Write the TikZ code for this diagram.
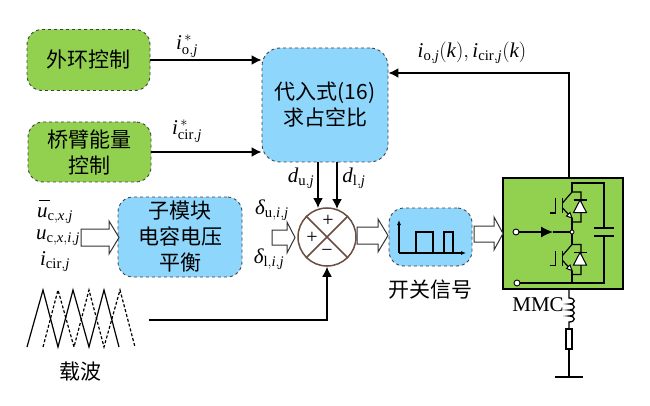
\documentclass[tikz,border=0pt]{standalone}
\usepackage{amsmath}
\usepackage{fontspec}
\setmainfont{Liberation Serif}
\newfontfamily\cjk{Noto Sans CJK SC}
\usetikzlibrary{arrows.meta}
\newcommand{\ii}[1]{\textit{#1}}
\tikzset{
  x=1pt,y=-1pt,
  ctl/.style={draw=black!75,dashed,line width=0.9pt,rounded corners=15pt,fill=#1,align=center,inner sep=0pt,font=\cjk\fontsize{21}{26}\selectfont},
  wire/.style={line width=1.6pt,line cap=butt},
  arr/.style={wire,-{Latex[length=10pt,width=10pt]}},
  hollow/.style={draw=black!80,fill=white,line width=1pt},
  lbl/.style={inner sep=0pt,font=\fontsize{21}{23}\selectfont},
  cn/.style={inner sep=0pt,font=\cjk\fontsize{21}{24}\selectfont},
  ckt/.style={line width=1.2pt},
  term/.style={circle,draw=black,fill=white,line width=0.9pt,inner sep=0pt,minimum size=6pt},
}
\definecolor{gfill}{HTML}{92D050}
\definecolor{bfill}{HTML}{8ED6FB}
\definecolor{sumc}{HTML}{6B4D42}
\begin{document}
\begin{tikzpicture}
\useasboundingbox (0,0) rectangle (650,406);
% control boxes
\node[ctl=gfill,minimum width=123pt,minimum height=61pt] (g1) at (88.5,60) {外环控制};
\node[ctl=gfill,minimum width=123pt,minimum height=60pt] (g2) at (89.5,152) {桥臂能量\\控制};
\node[ctl=bfill,rounded corners=18pt,minimum width=126pt,minimum height=114pt] (big) at (325,105) {代入式(16)\\求占空比};
\node[ctl=bfill,minimum width=124pt,minimum height=80pt] (sm) at (180,237) {子模块\\电容电压\\平衡};
\node[ctl=bfill,minimum width=83pt,minimum height=58pt] (sw) at (430.5,237) {};
% summing junction
\node[circle,draw=sumc,line width=1.5pt,minimum size=58pt,inner sep=0pt] (sum) at (327,237) {};
\draw[sumc,line width=1.5pt] (sum.45) -- (sum.225) (sum.135) -- (sum.315);
\node[inner sep=0pt,font=\fontsize{20}{20}\selectfont] (pt) at (328,221) {+};
\node[inner sep=0pt,font=\fontsize{20}{20}\selectfont] (pl) at (312,238) {+};
\node[inner sep=0pt,font=\fontsize{20}{20}\selectfont] (mn) at (327,253) {−};
% MMC box
\node[draw=black,line width=2pt,fill=gfill,minimum width=120pt,minimum height=111pt,inner sep=0pt] (mmc) at (563,233.5) {};
% connectors
\draw[arr] (g1.east) -- (g1 -| big.west);
\draw[arr] (g2.east) -- (g2 -| big.west);
\coordinate (duB) at (318,162); \coordinate (duT) at (318,208);
\coordinate (dlB) at (337,162); \coordinate (dlT) at (337,209);
\draw[arr] (duB) -- (duT);
\draw[arr] (dlB) -- (dlT);
\coordinate (cs) at (149,320);
\draw[arr] (cs) -| (sum.south);
\coordinate (fbT) at (569,178);
\coordinate (fbC) at (569,73);
\draw[arr] (fbT) -- (fbC) -- (fbC -| big.east);
% hollow arrows
\draw[hollow] (81,229) -- (109,229) -- (109,221) -- (119,237.5) -- (109,254) -- (109,246) -- (81,246) -- cycle;
\draw[hollow] (272,230) -- (287,230) -- (287,222) -- (295,237.5) -- (287,253) -- (287,245) -- (272,245) -- cycle;
\draw[hollow] (357,227) -- (378,227) -- (378,219) -- (388,235.5) -- (378,252) -- (378,244) -- (357,244) -- cycle;
\draw[hollow] (474,226) -- (494,226) -- (494,217) -- (503,233.5) -- (494,250) -- (494,242) -- (474,242) -- cycle;
% switch icon
\draw[line width=1.1pt,-{Latex[length=5pt,width=4pt]}] (399,253) -- (399,220);
\draw[line width=1.1pt,-{Latex[length=5pt,width=4pt]}] (399,253) -- (466,253);
\draw[line width=1.4pt] (416,253) -- (416,232) -- (433,232) -- (433,253) (444,253) -- (444,232) -- (453,232) -- (453,253);
% labels
\node[lbl] (l1) at (187,46) {$\ii{i}_{\textrm{o},\ii{j}}^{\,*}$};
\node[lbl] (l2) at (187,131) {$\ii{i}_{\textrm{cir},\ii{j}}^{\,*}$};
\node[lbl] (l3) at (472,53) {$\ii{i}_{\textrm{o},\ii{j}}(\ii{k}),\ii{i}_{\textrm{cir},\ii{j}}(\ii{k})$};
\node[lbl] (l4) at (301,178) {$\ii{d}_{\textrm{u},\ii{j}}$};
\node[lbl] (l5) at (354,178) {$\ii{d}_{\textrm{l},\ii{j}}$};
\node[lbl] (l6) at (272,210) {$\ii{δ}_{\textrm{u},\ii{i},\ii{j}}$};
\node[lbl] (l7) at (269,259) {$\ii{δ}_{\textrm{l},\ii{i},\ii{j}}$};
\node[lbl] (l8) at (55,216) {$\ii{u}_{\textrm{c},\ii{x},\ii{j}}$};
\draw[line width=0.9pt] (39,200) -- (50,200);
\node[lbl] (l9) at (58,238) {$\ii{u}_{\textrm{c},\ii{x},\ii{i},\ii{j}}$};
\node[lbl] (l10) at (55,262) {$\ii{i}_{\textrm{cir},\ii{j}}$};
\node[cn] (t1) at (80,372) {载波};
\node[cn] (t2) at (430,290) {开关信号};
\node[inner sep=0pt,font=\fontsize{21}{21}\selectfont] (t3) at (538,305) {MMC};
% carriers
\draw[line width=1.2pt] (27,347) -- (43,290) -- (58,347) -- (73,290) -- (89,347) -- (104,290) -- (119,347);
\draw[line width=1.2pt,dash pattern=on 3pt off 2pt] (43,347) -- (58,290) -- (74,347) -- (89,290) -- (104,347) -- (120,290) -- (135,347);
% circuit
\node[term] (ta) at (516,232) {};
\node[term] (tb) at (517,283) {};
\node[circle,draw=black,fill=white,line width=0.8pt,inner sep=0pt,minimum size=4pt] (mid) at (572,232) {};
\draw[ckt,-{Latex[length=12pt,width=11pt]}] (ta) -- (553,232);
\draw[ckt] (553,232) -- (mid);
\draw[ckt] (tb) -- (604,283) -- (604,236);
\draw[ckt] (604,228) -- (604,183) -- (572,183) -- (572,192);
\draw[line width=1.3pt] (594,228) -- (614,228) (594,236) -- (614,236);
\foreach \dy in {0,52.5}{
\begin{scope}[yshift=-\dy pt]
  \draw[ckt] (549.5,213) -- (555.5,213) -- (555.5,198) ;
  \draw[ckt] (562.5,198) -- (562.5,213);
  \draw[ckt] (562.5,203) -- (572,192) -- (581,192) -- (581,222) -- (572,222);
  \draw[ckt] (562.5,208) -- (572,218);
  \draw[line width=1pt,fill=white] (572,218) -- (566.5,216) -- (570,212.5) -- cycle;
  \draw[ckt] (573.5,200) -- (586.5,200);
  \draw[line width=1pt,fill=white] (580,200) -- (573.5,212.5) -- (586.5,212.5) -- cycle;
\end{scope}}
\draw[ckt] (572,218) -- (mid) -- (572,244.5);
\draw[ckt] (572,270.5) -- (572,283);
% output branch
\coordinate (o1) at (569,289);
\coordinate (o2) at (569,298);
\coordinate (o3) at (569,322);
\coordinate (o4) at (569,329);
\node[draw=black,fill=white,line width=1.1pt,minimum width=6pt,minimum height=20pt,inner sep=0pt] (res) at (569,339) {};
\coordinate (gnd) at (569,377);
\draw[line width=1.3pt] (o1) -- (o2)
  .. controls (576,298) and (576,304) .. (569,304)
  .. controls (576,304) and (576,310) .. (569,310)
  .. controls (576,310) and (576,316) .. (569,316)
  .. controls (576,316) and (576,322) .. (o3) -- (o4);
\draw[line width=1.3pt] (res.south) -- (gnd);
\coordinate (g1a) at (555,377); \coordinate (g1b) at (583,377);
\draw[line width=1.3pt] (g1a) -- (g1b);
\end{tikzpicture}
\end{document}
